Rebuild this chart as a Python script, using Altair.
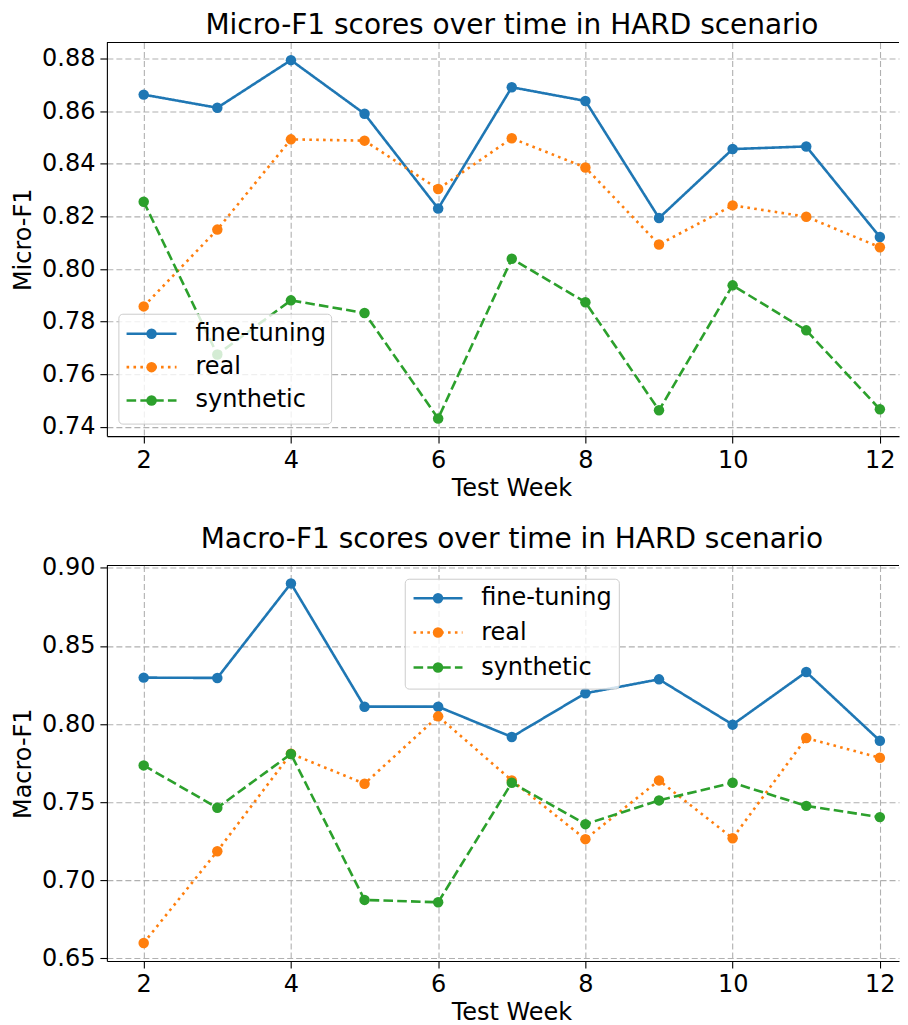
import altair as alt
import pandas as pd

weeks = [2, 3, 4, 5, 6, 7, 8, 9, 10, 11, 12]
series_names = ["fine-tuning", "real", "synthetic"]
series_colors = ["#1f77b4", "#ff7f0e", "#2ca02c"]
series_dashes = [[1, 0], [2.6, 4.3], [9.6, 4.2]]

micro_finetuning = [0.8663, 0.8613, 0.8794, 0.8590, 0.8230, 0.8691, 0.8639, 0.8194, 0.8456, 0.8466, 0.8122]
micro_real = [0.7858, 0.8150, 0.8493, 0.8488, 0.8304, 0.8497, 0.8386, 0.8093, 0.8242, 0.8199, 0.8083]
micro_synthetic = [0.8256, 0.7675, 0.7881, 0.7833, 0.7432, 0.8039, 0.7874, 0.7463, 0.7938, 0.7767, 0.7467]

macro_finetuning = [0.8297, 0.8295, 0.8900, 0.8111, 0.8111, 0.7917, 0.8197, 0.8286, 0.7996, 0.8333, 0.7893]
macro_real = [0.6598, 0.7186, 0.7810, 0.7618, 0.8049, 0.7639, 0.7263, 0.7639, 0.7269, 0.7910, 0.7784]
macro_synthetic = [0.7735, 0.7464, 0.7808, 0.6874, 0.6859, 0.7624, 0.7359, 0.7511, 0.7624, 0.7476, 0.7404]

micro_ticks = [0.74, 0.76, 0.78, 0.80, 0.82, 0.84, 0.86, 0.88]
macro_ticks = [0.65, 0.70, 0.75, 0.80, 0.85, 0.90]
week_ticks = [2, 4, 6, 8, 10, 12]

FONT = "DejaVu Sans"
W = 793
FS = 24
LW = 2.6
MS = 110


def long_df(cols):
    rows = []
    for name, vals in zip(series_names, cols):
        for w, v in zip(weeks, vals):
            rows.append({"week": w, "value": v, "series": name})
    return pd.DataFrame(rows)


def panel(df, title, ytitle, ydomain, yticks, height, legend_box, legend_rows, legend_line, legend_text_x):
    x_enc = alt.X(
        "week:Q",
        scale=alt.Scale(domain=[1.5, 12.26], nice=False, zero=False),
        axis=alt.Axis(
            values=week_ticks, format="d", tickSize=7, tickWidth=1.1, tickColor="black",
            domainColor="black", domainWidth=1.1, labelFontSize=FS, labelFont=FONT,
            labelColor="black", labelPadding=5, labelFlush=False,
            title="Test Week", titleFontSize=FS, titleFont=FONT, titleFontWeight="normal",
            titleColor="black", titlePadding=4, titleX=405,
            grid=True, gridColor="#b0b0b0", gridDash=[6, 3], gridWidth=1.1,
        ),
    )
    y_enc = alt.Y(
        "value:Q",
        scale=alt.Scale(domain=ydomain, nice=False, zero=False),
        axis=alt.Axis(
            values=yticks, format=".2f", tickSize=7, tickWidth=1.1, tickColor="black",
            domainColor="black", domainWidth=1.1, labelFontSize=FS, labelFont=FONT,
            labelColor="black", labelPadding=5, labelFlush=False,
            title=ytitle, titleFontSize=FS, titleFont=FONT, titleFontWeight="normal",
            titleColor="black", titlePadding=6,
            grid=True, gridColor="#b0b0b0", gridDash=[6, 3], gridWidth=1.1,
        ),
    )
    base = alt.Chart(df)
    layers = []
    for name, color, dash in zip(series_names, series_colors, series_dashes):
        sub = base.transform_filter(alt.datum.series == name)
        layers.append(sub.mark_line(color=color, strokeDash=dash, strokeWidth=LW).encode(x=x_enc, y=y_enc))
        layers.append(sub.mark_circle(color=color, size=MS, opacity=1).encode(x=x_enc, y=y_enc))

    one = alt.Chart(pd.DataFrame({"k": [0]}))
    # top frame line
    layers.append(one.mark_rule(color="black", strokeWidth=1.1).encode(
        x=alt.value(0), x2=alt.value(W), y=alt.value(0)))
    # legend box
    bx0, bx1, by0, by1 = legend_box
    layers.append(one.mark_rect(fill="white", fillOpacity=0.8, stroke="#cccccc", strokeWidth=1,
                                cornerRadius=4).encode(
        x=alt.value(bx0), x2=alt.value(bx1), y=alt.value(by0), y2=alt.value(by1)))
    lx0, lx1 = legend_line
    for name, color, dash, ry in zip(series_names, series_colors, series_dashes, legend_rows):
        layers.append(one.mark_rule(color=color, strokeDash=dash, strokeWidth=LW).encode(
            x=alt.value(lx0), x2=alt.value(lx1), y=alt.value(ry)))
        layers.append(one.mark_circle(color=color, size=MS, opacity=1).encode(
            x=alt.value((lx0 + lx1) / 2), y=alt.value(ry)))
        layers.append(one.mark_text(align="left", baseline="middle", fontSize=FS, font=FONT,
                                    color="black").encode(
            x=alt.value(legend_text_x), y=alt.value(ry), text=alt.value(name)))

    return alt.layer(*layers).properties(
        width=W, height=height,
        title=alt.TitleParams(title, fontSize=28, font=FONT, fontWeight="normal", color="black",
                              anchor="middle", dx=9, offset=2),
    )


top = panel(long_df([micro_finetuning, micro_real, micro_synthetic]),
            "Micro-F1 scores over time in HARD scenario", "Micro-F1",
            [0.7365, 0.8861], micro_ticks, 394,
            (12, 225, 272, 382), [291.6, 325, 358.3], (19.7, 69.7), 88.7)

bottom = panel(long_df([macro_finetuning, macro_real, macro_synthetic]),
               "Macro-F1 scores over time in HARD scenario", "Macro-F1",
               [0.6483, 0.9015], macro_ticks, 396,
               (298.7, 513, 13.8, 123.8), [32.8, 67.2, 102.2], (307, 356), 374.7)

chart = alt.vconcat(top, bottom, spacing=25.5).properties(
    padding={"left": 3, "right": 0, "top": 3, "bottom": 3}
).configure_view(strokeWidth=0)

chart.save("out.html", embed_options={"renderer": "svg", "actions": False})
